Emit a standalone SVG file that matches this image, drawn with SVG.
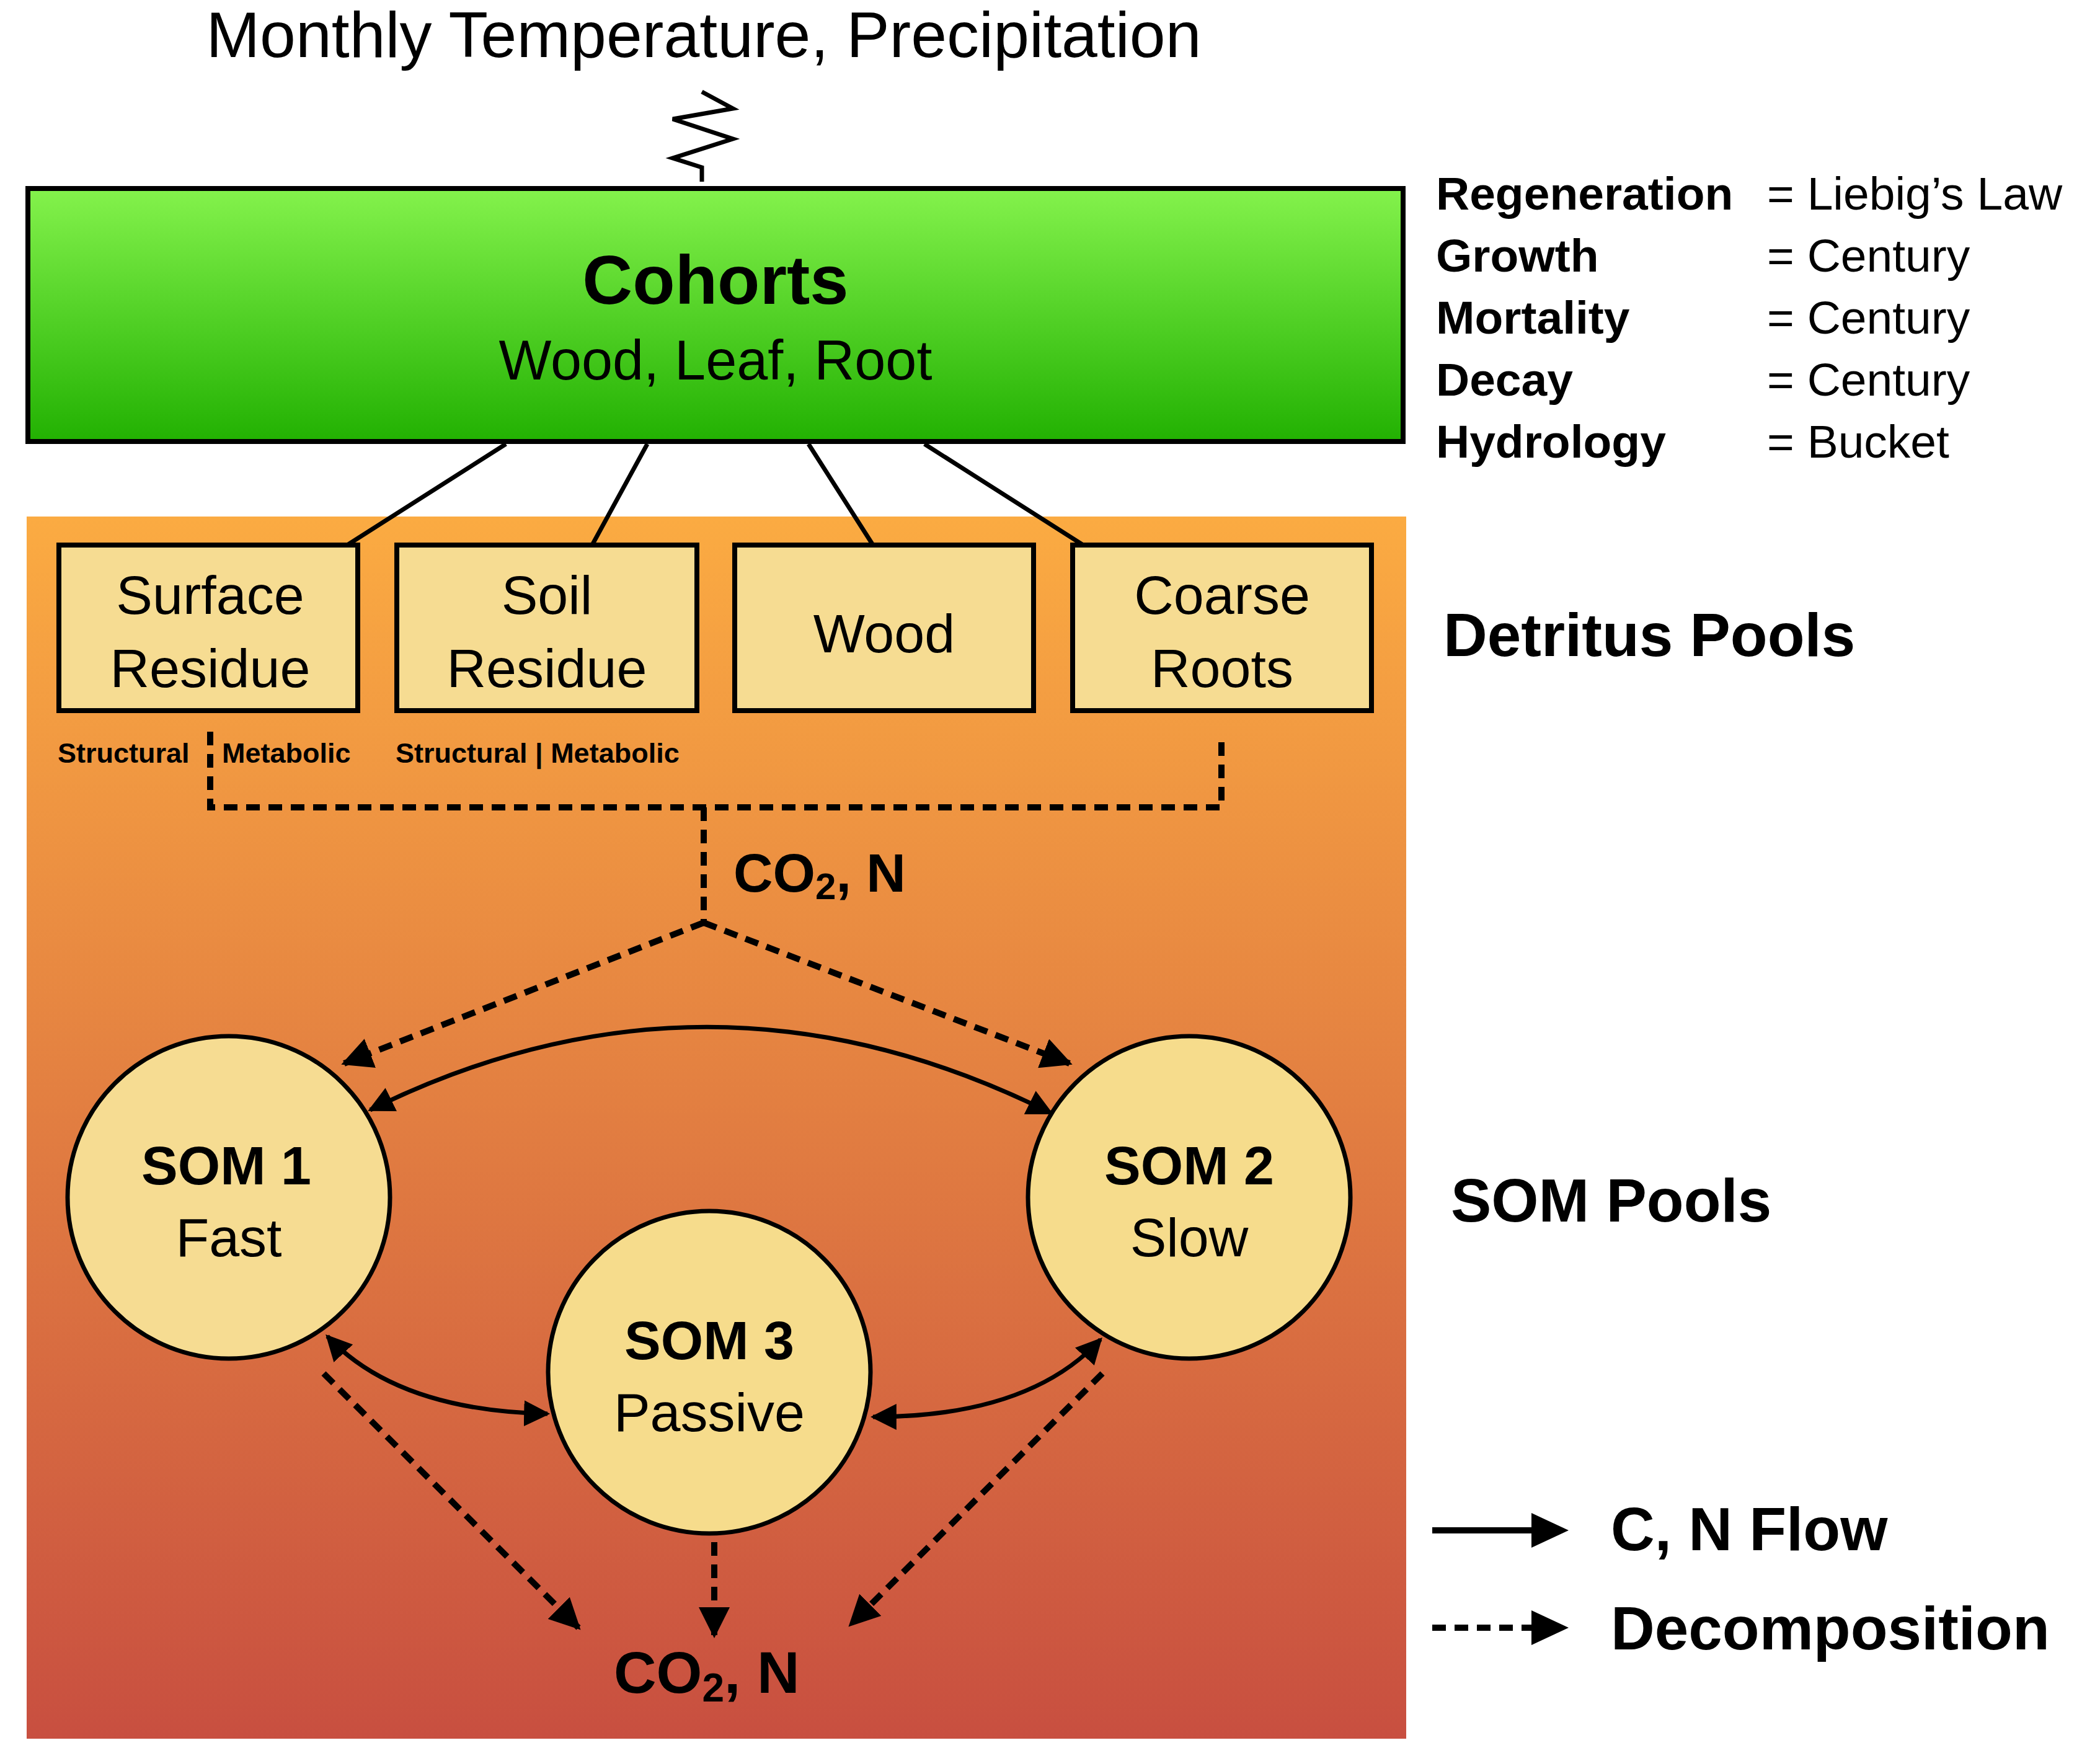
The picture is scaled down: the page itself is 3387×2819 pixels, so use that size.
<svg xmlns="http://www.w3.org/2000/svg" width="3387" height="2819" viewBox="0 0 3387 2819">
<defs>
<linearGradient id="gg" x1="0" y1="0" x2="0" y2="1"><stop offset="0" stop-color="#84f24c"/><stop offset="1" stop-color="#22b102"/></linearGradient>
<linearGradient id="og" x1="0" y1="0" x2="0" y2="1"><stop offset="0" stop-color="#fbab42"/><stop offset="1" stop-color="#c84f40"/></linearGradient>
<marker id="ah" viewBox="0 0 10 10" refX="9" refY="5" markerWidth="6" markerHeight="6" markerUnits="strokeWidth" orient="auto-start-reverse"><path d="M0,0 L10,5 L0,10 z" fill="#000"/></marker>
<marker id="ad" viewBox="0 0 10 10" refX="9" refY="5" markerWidth="5" markerHeight="5" markerUnits="strokeWidth" orient="auto"><path d="M0,0 L10,5 L0,10 z" fill="#000"/></marker>
</defs>
<style>
text{font-family:"Liberation Sans",Arial,sans-serif;fill:#000}
.b{font-weight:bold}
.box{fill:#f6dc92;stroke:#000;stroke-width:8}
.ln{fill:none;stroke:#000;stroke-width:7}
.dl{fill:none;stroke:#000;stroke-width:10;stroke-dasharray:22 14}
.sl{fill:none;stroke:#000;stroke-width:7}
</style>
<rect width="3387" height="2819" fill="#fff"/>
<rect x="43" y="833" width="2225" height="1971" fill="url(#og)"/>
<text x="1135" y="92" font-size="104" text-anchor="middle">Monthly Temperature, Precipitation</text>
<path class="ln" d="M1132,293 L1132,270 L1085,255 L1182,224 L1085,192 L1182,175 L1132,148"/>
<g id="cohorts"><rect x="45" y="304" width="2218" height="408" fill="url(#gg)" stroke="#000" stroke-width="8"/>
<text x="1154" y="490" font-size="112" text-anchor="middle" class="b">Cohorts</text>
<text x="1154" y="612" font-size="90" text-anchor="middle">Wood, Leaf, Root</text></g>
<g id="connectors">
<path class="ln" d="M816,716 L560,879 M1044,716 L955,879 M1304,716 L1408,879 M1491,716 L1747,879"/>
<path class="dl" d="M339,1180 L339,1302 L1970,1302 L1970,1185 M1135,1302 L1135,1488"/>
<path class="dl" marker-end="url(#ad)" d="M1135,1488 L555,1715"/>
<path class="dl" marker-end="url(#ad)" d="M1135,1488 L1725,1715"/>
<path class="sl" marker-start="url(#ah)" marker-end="url(#ah)" d="M597,1790 Q1144,1520 1695,1795"/>
<path class="sl" marker-start="url(#ah)" marker-end="url(#ah)" d="M528,2155 Q640,2275 883,2280"/>
<path class="sl" marker-start="url(#ah)" marker-end="url(#ah)" d="M1775,2160 Q1660,2285 1408,2285"/>
<path class="dl" marker-end="url(#ad)" d="M522,2215 L933,2625"/>
<path class="dl" marker-end="url(#ad)" d="M1152,2487 L1152,2637"/>
<path class="dl" marker-end="url(#ad)" d="M1778,2215 L1372,2620"/>
</g>
<g id="surface"><rect class="box" x="95" y="879" width="482" height="267"/><text x="339" y="990" font-size="88" text-anchor="middle">Surface</text><text x="339" y="1108" font-size="88" text-anchor="middle">Residue</text></g>
<g id="soil"><rect class="box" x="640" y="879" width="484" height="267"/><text x="882" y="990" font-size="88" text-anchor="middle">Soil</text><text x="882" y="1108" font-size="88" text-anchor="middle">Residue</text></g>
<g id="wood"><rect class="box" x="1185" y="879" width="482" height="267"/><text x="1426" y="1052" font-size="88" text-anchor="middle">Wood</text></g>
<g id="coarse"><rect class="box" x="1730" y="879" width="482" height="267"/><text x="1971" y="990" font-size="88" text-anchor="middle">Coarse</text><text x="1971" y="1108" font-size="88" text-anchor="middle">Roots</text></g>
<text x="93" y="1230" font-size="45" class="b">Structural</text>
<text x="358" y="1230" font-size="45" class="b">Metabolic</text>
<text x="638" y="1230" font-size="45" class="b">Structural | Metabolic</text>
<text x="1183" y="1438" font-size="88" class="b">CO<tspan font-size="60" dy="12">2</tspan><tspan dy="-12">, N</tspan></text>
<g id="som1"><circle cx="369" cy="1931" r="260" fill="#f6dc92" stroke="#000" stroke-width="7"/><text x="365" y="1910" font-size="88" text-anchor="middle" class="b">SOM 1</text><text x="369" y="2026" font-size="88" text-anchor="middle">Fast</text></g>
<g id="som2"><circle cx="1918" cy="1931" r="260" fill="#f6dc8c" stroke="#000" stroke-width="7"/><text x="1918" y="1910" font-size="88" text-anchor="middle" class="b">SOM 2</text><text x="1918" y="2026" font-size="88" text-anchor="middle">Slow</text></g>
<g id="som3"><circle cx="1144" cy="2213" r="260" fill="#f6dc8c" stroke="#000" stroke-width="7"/><text x="1144" y="2192" font-size="88" text-anchor="middle" class="b">SOM 3</text><text x="1144" y="2308" font-size="88" text-anchor="middle">Passive</text></g>
<text x="990" y="2730" font-size="95" class="b">CO<tspan font-size="64" dy="14">2</tspan><tspan dy="-14">, N</tspan></text>
<g font-size="75">
<text x="2316" y="338" class="b">Regeneration</text><text x="2850" y="338">= Liebig’s Law</text>
<text x="2316" y="438" class="b">Growth</text><text x="2850" y="438">= Century</text>
<text x="2316" y="538" class="b">Mortality</text><text x="2850" y="538">= Century</text>
<text x="2316" y="638" class="b">Decay</text><text x="2850" y="638">= Century</text>
<text x="2316" y="738" class="b">Hydrology</text><text x="2850" y="738">= Bucket</text>
</g>
<text x="2328" y="1058" font-size="98" class="b">Detritus Pools</text>
<text x="2340" y="1970" font-size="98" class="b">SOM Pools</text>
<g id="legend">
<path d="M2310,2468 L2475,2468" stroke="#000" stroke-width="10"/><path d="M2470,2440 L2530,2468 L2470,2496 z"/>
<path d="M2310,2625 L2475,2625" stroke="#000" stroke-width="10" stroke-dasharray="22 14"/><path d="M2470,2597 L2530,2625 L2470,2653 z"/>
<text x="2598" y="2500" font-size="98" class="b">C, N Flow</text>
<text x="2598" y="2660" font-size="98" class="b">Decomposition</text>
</g>
</svg>
